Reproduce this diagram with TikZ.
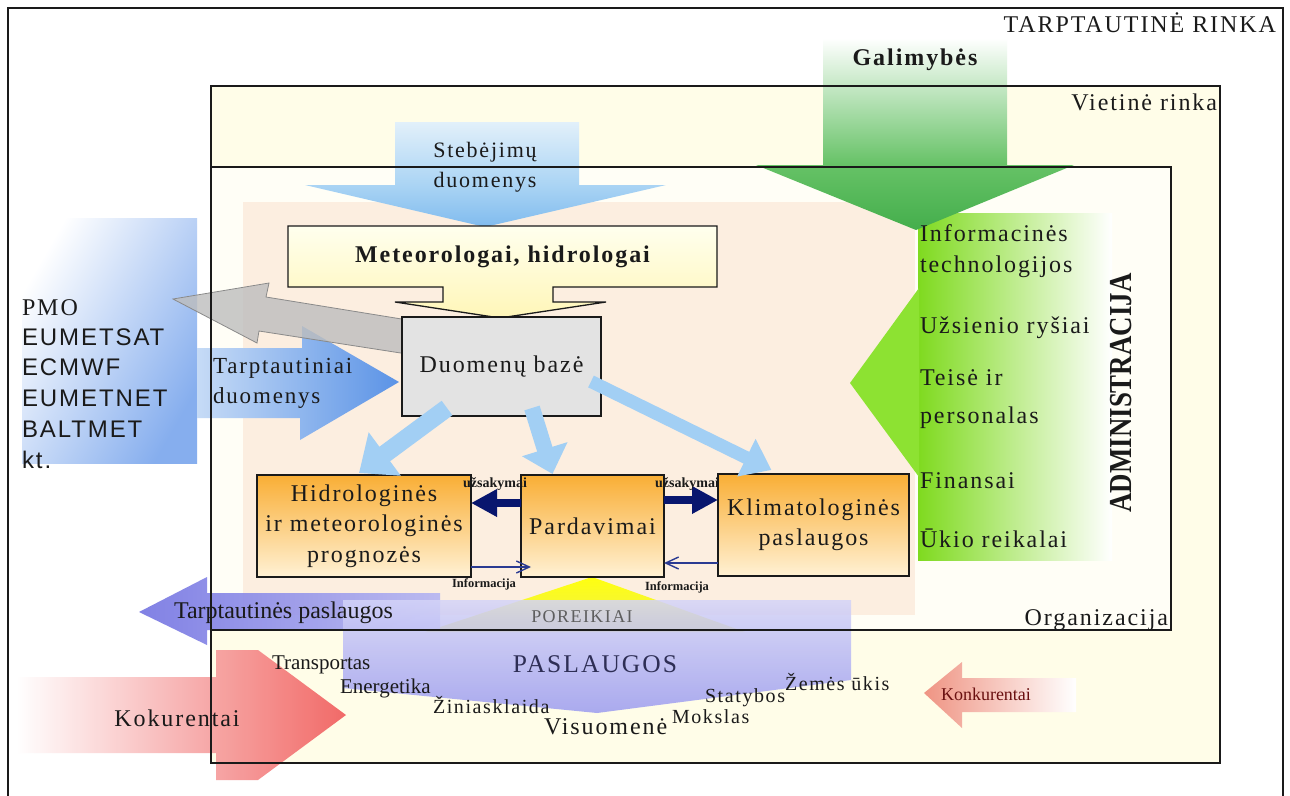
\documentclass[tikz,border=0pt]{standalone}
\usepackage{fontspec}
\usepackage{graphicx}
\setmainfont{Liberation Serif}[LetterSpace=8]
\newfontfamily\plainserif{Liberation Serif}
\newfontfamily\agencyfont{Liberation Sans}[LetterSpace=8]
\usetikzlibrary{arrows.meta,calc}

\definecolor{ink}{HTML}{1A1A1A}
\definecolor{localfill}{HTML}{FFFDE8}
\definecolor{orgfill}{HTML}{FFFEF6}
\definecolor{peach}{HTML}{FCEEE0}
\definecolor{extblue}{HTML}{86AEEE}
\definecolor{tdblueA}{HTML}{C6DBF6}
\definecolor{tdblueB}{HTML}{5B93E6}
\definecolor{grayarrow}{HTML}{BDBDBD}
\definecolor{grayedge}{HTML}{8A8A8A}
\definecolor{obsA}{HTML}{E2F0FA}
\definecolor{obsB}{HTML}{AAD4F4}
\definecolor{obsC}{HTML}{80BBEE}
\definecolor{meteoA}{HTML}{FFFFEE}
\definecolor{meteoB}{HTML}{FFF6B8}
\definecolor{dbfill}{HTML}{E3E3E3}
\definecolor{lightarr}{HTML}{A2CFF4}
\definecolor{orangeA}{HTML}{F9AE35}
\definecolor{orangeB}{HTML}{FFF1D4}
\definecolor{navyc}{HTML}{08166E}
\definecolor{infoblue}{HTML}{2A3A92}
\definecolor{yellowA}{HTML}{FFFF10}
\definecolor{yellowB}{HTML}{EEEE50}
\definecolor{paslA}{HTML}{D4D4F8}
\definecolor{paslB}{HTML}{9B9BF0}
\definecolor{tpA}{HTML}{7474E2}
\definecolor{tpB}{HTML}{B5B5F2}
\definecolor{kokR}{HTML}{F05A5A}
\definecolor{konkA}{HTML}{EF9483}
\definecolor{galA}{HTML}{66C266}
\definecolor{galB}{HTML}{44AE4C}
\definecolor{admA}{HTML}{7FDA1F}
\definecolor{admArrow}{HTML}{8DE232}
\definecolor{konkText}{HTML}{6A1010}
\definecolor{poreikText}{HTML}{5E5E5E}
\definecolor{paslText}{HTML}{2E2E55}

\newcommand\fsz[2]{\fontsize{#1}{#2}\selectfont}

\begin{document}
\begin{tikzpicture}[x=1pt,y=-1pt,
  every node/.style={inner sep=0pt,outer sep=0pt,text=ink},
  lbl/.style={font=\fsz{24}{30}},
  small/.style={font=\fsz{20}{24}},
  frameline/.style={draw=ink,line width=1.4pt},
  boxline/.style={draw=ink,line width=1.3pt},
  orangebox/.style={boxline,top color=orangeA,bottom color=orangeB,
    align=center,font=\fsz{24}{30.5}},
  navyarrow/.style={navyc,line width=8pt,-{Triangle[length=26pt,width=26pt]}},
  infoarrow/.style={infoblue,line width=1.4pt,-{Straight Barb[length=13pt,width=12pt]}},
  tinybold/.style={font=\plainserif\bfseries\fsz{14}{14}},
  agency/.style={font=\agencyfont\fsz{24}{30},anchor=base west}]

\useasboundingbox (0,0) rectangle (1290,795);
\fill[white] (0,0) rectangle (1290,795);

% market, organisation and work areas
\fill[localfill] (211,86) rectangle (1220,763);
\fill[orgfill] (211,167) rectangle (1171,630);
\fill[peach] (243,202) rectangle (915,615);

% international partners block
\shade[top color=white,bottom color=extblue,shading angle=60] (22,218) rectangle (197,463);

% incoming international data
\shade[left color=tdblueA,right color=tdblueB]
  (197,348) -- (302,348) -- (302,326) -- (399,382) -- (300,440) -- (300,418) -- (197,418) -- cycle;

% outgoing data (grey arrow)
\filldraw[fill=grayarrow,draw=grayedge,line width=0.8pt,fill opacity=0.8]
  (173,299) -- (269,283) -- (266,297) -- (420,322) -- (420,356) -- (259,331) -- (257,343) -- cycle;

% observation data arrow
\shade[top color=obsA,bottom color=obsB] (395,122) rectangle (579,185);
\shade[top color=obsB,bottom color=obsC] (305,185) -- (666,185) -- (485,227) -- cycle;

% administration block
\shade[left color=admA,right color=white] (918,213) rectangle (1112,560);
\fill[admArrow] (919,288) -- (850,383) -- (919,477) -- cycle;

% opportunities arrow
\shade[top color=white,bottom color=galA] (823,38) rectangle (1007,165);
\shade[top color=galA,bottom color=galB] (756,165) -- (1074,165) -- (916,230) -- cycle;

% needs / services
\shade[top color=yellowA,bottom color=yellowB] (592,577) -- (745,632) -- (425,632) -- cycle;
\shade[left color=tpA,right color=tpB,opacity=0.9]
  (139,612) -- (207,577) -- (207,593) -- (440,593) -- (440,630) -- (207,630) -- (207,645) -- cycle;
\shade[top color=paslA,middle color=paslB,bottom color=paslB,opacity=0.85]
  (343,600) -- (851,600) -- (851,680) -- (597,713) -- (343,688) -- cycle;

% competitors
\shade[left color=white,right color=kokR,opacity=0.9]
  (17,677) -- (216,677) -- (216,650) -- (258,650) -- (346,715) -- (258,780) -- (216,780) -- (216,753) -- (17,753) -- cycle;
\shade[left color=konkA,right color=white]
  (924,693) -- (962,662) -- (962,678) -- (1076,678) -- (1076,712) -- (962,712) -- (962,728) -- cycle;

% frames
\draw[frameline] (8,800) -- (8,8) -- (1283,8) -- (1283,800);
\draw[frameline] (211,86) rectangle (1220,763);
\draw[frameline] (211,167) rectangle (1171,630);

% meteorologists box with its down arrow
\shade[top color=meteoA,bottom color=meteoB,draw=ink,line width=1.3pt]
  (288,226) -- (717,226) -- (717,287) -- (553,287) -- (553,302) -- (606,302) -- (500,318)
  -- (395,302) -- (443,302) -- (443,287) -- (288,287) -- cycle;
\node[font=\bfseries\fsz{24}{30}] (meteo) at (502.5,256.5) {Meteorologai, hidrologai};

% database and departments
\node[boxline,fill=dbfill,minimum width=199pt,minimum height=99pt,lbl] (db) at (501.5,366.5) {Duomenų bazė};
\node[orangebox,minimum width=214pt,minimum height=102pt] (hyd) at (364,526)
  {Hidrologinės\\ir meteorologinės\\prognozės};
\node[orangebox,minimum width=143pt,minimum height=102pt] (pard) at (592.5,526) {Pardavimai};
\node[orangebox,minimum width=191pt,minimum height=102pt] (klim) at (813.5,525)
  {Klimatologinės\\paslaugos};

% data flows from the database
\draw[lightarr,line width=18pt,-{Triangle[length=32pt,width=52pt]}]
  ($(db.south west)+(45,-8)$) -- ($(hyd.north)+(-5,-2)$);
\draw[lightarr,line width=16pt,-{Triangle[length=26pt,width=46pt]}]
  ($(db.south west)+(130,-8)$) -- ($(pard.north)+(-40,-1)$);
\draw[lightarr,line width=13pt,-{Triangle[length=28pt,width=40pt]}]
  ($(db.east)+(-10,15)$) -- ($(klim.north)+(-42,-4)$);

% orders and information between departments
\draw[navyarrow] ($(pard.west)+(0,-23)$) -- ($(hyd.east)+(0,-23)$);
\draw[navyarrow] ($(pard.east)+(0,-26)$) -- ($(klim.west)+(0,-25)$);
\draw[infoarrow] ($(hyd.east)+(0,41)$) -- ($(pard.west)+(10,41)$);
\draw[infoarrow] ($(klim.west)+(0,38)$) -- ($(pard.east)+(0,37)$);
\node[tinybold,anchor=base] (ord1) at (495,487) {užsakymai};
\node[tinybold,anchor=base] (ord2) at (687,487) {užsakymai};
\node[tinybold,font=\plainserif\bfseries\fsz{12.5}{13},anchor=base] (inf1) at (484,587) {Informacija};
\node[tinybold,font=\plainserif\bfseries\fsz{12.5}{13},anchor=base] (inf2) at (677,590) {Informacija};

% market labels
\node[lbl,anchor=base east] (intl) at (1276,32) {TARPTAUTINĖ RINKA};
\node[lbl,anchor=base east] (local) at (1217,110) {Vietinė rinka};
\node[lbl,anchor=base east] (org) at (1168,625) {Organizacija};
\node[font=\bfseries\fsz{24}{30},anchor=base] (gal) at (915,65) {Galimybės};
\node[font=\fsz{22}{28},anchor=base] (obs1) at (485,157) {Stebėjimų};
\node[font=\fsz{22}{28},anchor=base] (obs2) at (485,187) {duomenys};

% partners
\node[lbl,anchor=base west] (p1) at (22,315) {PMO};
\node[agency] (p2) at (22,345) {EUMETSAT};
\node[agency] (p3) at (22,375) {ECMWF};
\node[agency] (p4) at (22,406) {EUMETNET};
\node[agency] (p5) at (22,437) {BALTMET};
\node[agency] (p6) at (22,468) {kt.};
\node[font=\fsz{23}{30},anchor=base west] (td1) at (213,373) {Tarptautiniai};
\node[font=\fsz{23}{30},anchor=base west] (td2) at (213,403) {duomenys};

% administration
\node[lbl,anchor=base west] (a1) at (920,241) {Informacinės};
\node[lbl,anchor=base west] (a2) at (920,272) {technologijos};
\node[lbl,anchor=base west] (a3) at (920,333) {Užsienio ryšiai};
\node[lbl,anchor=base west] (a4) at (920,385) {Teisė ir};
\node[lbl,anchor=base west] (a5) at (920,423) {personalas};
\node[lbl,anchor=base west] (a6) at (920,488) {Finansai};
\node[lbl,anchor=base west] (a7) at (920,547) {Ūkio reikalai};
\node[rotate=90,font=\plainserif\bfseries\fsz{32}{32}] (adm) at (1121,393)
  {\scalebox{0.84}[1]{ADMINISTRACIJA}};

% services and society
\node[font=\fsz{18}{20},text=poreikText,anchor=base] (need) at (582,622) {POREIKIAI};
\node[font=\fsz{25.5}{30},text=paslText,anchor=base] (serv) at (595,672) {PASLAUGOS};
\node[font=\plainserif\fsz{24}{30},anchor=base west] (tps) at (174,618) {Tarptautinės paslaugos};
\node[font=\plainserif\fsz{21}{24},anchor=base west] (s1) at (272,669) {Transportas};
\node[font=\plainserif\fsz{21}{24},anchor=base west] (s2) at (340,693) {Energetika};
\node[small,anchor=base west] (s3) at (433,713) {Žiniasklaida};
\node[lbl,anchor=base west] (s4) at (544,734) {Visuomenė};
\node[small,anchor=base west] (s5) at (672,723) {Mokslas};
\node[small,anchor=base west] (s6) at (705,702) {Statybos};
\node[small,anchor=base west] (s7) at (785,690) {Žemės ūkis};
\node[lbl,anchor=base] (kok) at (177,726) {Kokurentai};
\node[font=\plainserif\fsz{18}{20},text=konkText,anchor=base west] (konk) at (941,700) {Konkurentai};

\end{tikzpicture}
\end{document}
